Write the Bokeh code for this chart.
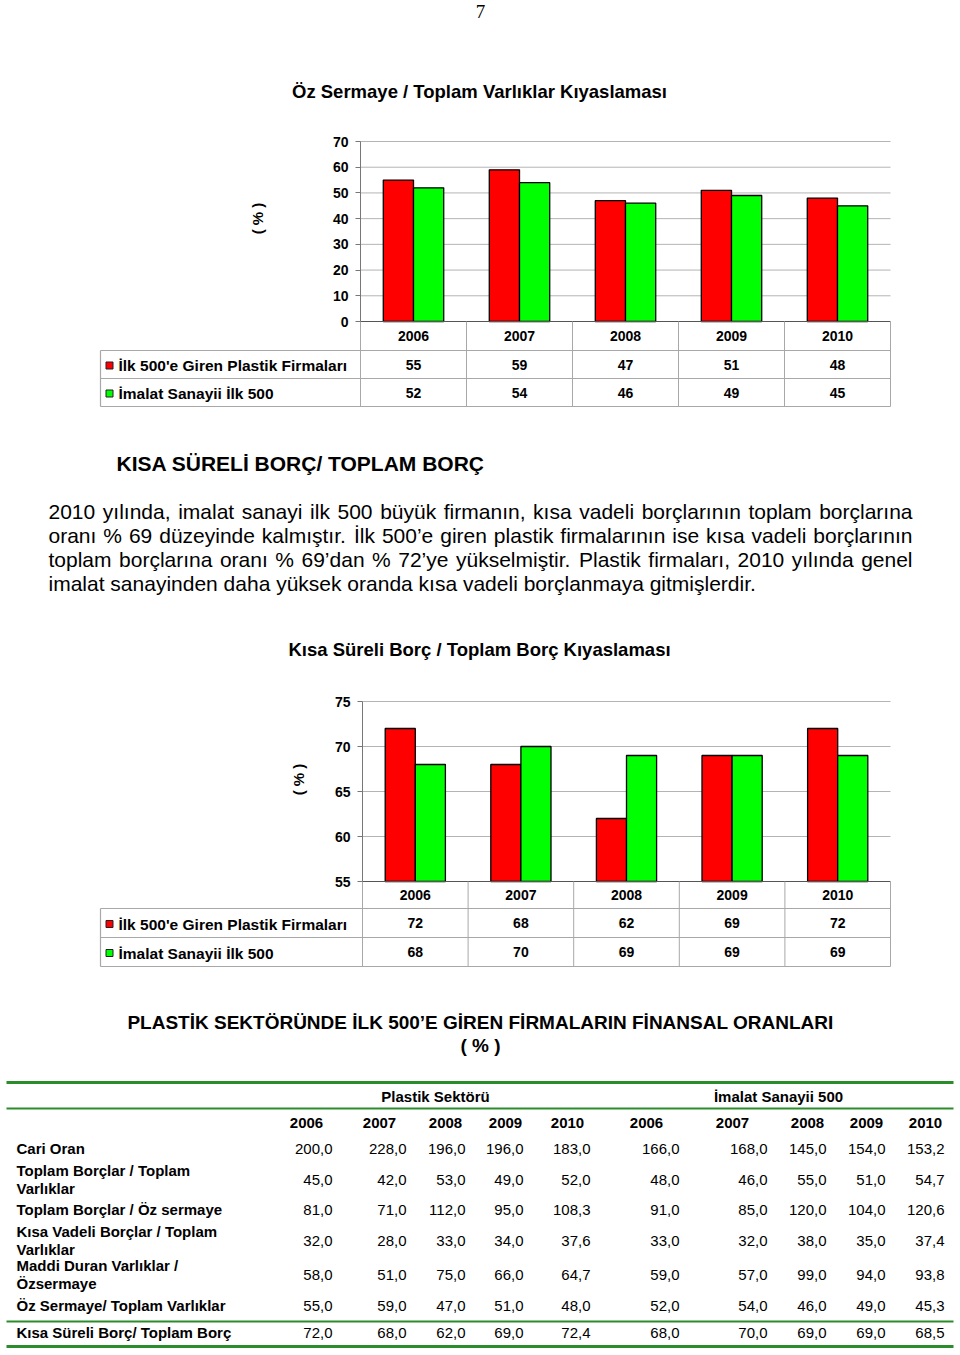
import numpy as np
from bokeh.plotting import figure
from bokeh.models import Range1d, LinearAxis, FixedTicker
from bokeh.core.properties import value
from bokeh.embed import file_html
from bokeh.resources import INLINE

# ---------------- data ----------------
YEARS = ["2006", "2007", "2008", "2009", "2010"]
SERIES = ["İlk 500'e Giren Plastik Firmaları", "İmalat Sanayii İlk 500"]

C1_TITLE = "Öz Sermaye / Toplam Varlıklar Kıyaslaması"
C1_PLASTIK = [55, 59, 47, 51, 48]
C1_IMALAT = [52, 54, 46, 49, 45]
C1_TICKS = [0, 10, 20, 30, 40, 50, 60, 70]

C2_TITLE = "Kısa Süreli Borç / Toplam Borç Kıyaslaması"
C2_PLASTIK = [72, 68, 62, 69, 72]
C2_IMALAT = [68, 70, 69, 69, 69]
C2_TICKS = [55, 60, 65, 70, 75]

PAGE_NO = "7"
HEADING = "KISA SÜRELİ BORÇ/ TOPLAM BORÇ"
PARAGRAPH = [
    "2010 yılında, imalat sanayi ilk 500 büyük firmanın, kısa vadeli borçlarının toplam borçlarına",
    "oranı % 69 düzeyinde kalmıştır. İlk 500’e giren plastik firmalarının ise kısa vadeli borçlarının",
    "toplam borçlarına oranı % 69’dan % 72’ye yükselmiştir. Plastik firmaları, 2010 yılında genel",
    "imalat sanayinden daha yüksek oranda kısa vadeli borçlanmaya gitmişlerdir.",
]

TABLE_TITLE = "PLASTİK SEKTÖRÜNDE İLK 500’E GİREN FİRMALARIN FİNANSAL ORANLARI"
TABLE_SUB = "( % )"
TABLE_GROUPS = ["Plastik Sektörü", "İmalat Sanayii 500"]
TABLE_ROWS = [
    "Cari Oran",
    "Toplam Borçlar / Toplam\nVarlıklar",
    "Toplam Borçlar / Öz sermaye",
    "Kısa Vadeli Borçlar / Toplam\nVarlıklar",
    "Maddi Duran Varlıklar /\nÖzsermaye",
    "Öz Sermaye/ Toplam Varlıklar",
    "Kısa Süreli Borç/ Toplam Borç",
]
TABLE_PLASTIK = [
    [200.0, 228.0, 196.0, 196.0, 183.0],
    [45.0, 42.0, 53.0, 49.0, 52.0],
    [81.0, 71.0, 112.0, 95.0, 108.3],
    [32.0, 28.0, 33.0, 34.0, 37.6],
    [58.0, 51.0, 75.0, 66.0, 64.7],
    [55.0, 59.0, 47.0, 51.0, 48.0],
    [72.0, 68.0, 62.0, 69.0, 72.4],
]
TABLE_IMALAT = [
    [166.0, 168.0, 145.0, 154.0, 153.2],
    [48.0, 46.0, 55.0, 51.0, 54.7],
    [91.0, 85.0, 120.0, 104.0, 120.6],
    [33.0, 32.0, 38.0, 35.0, 37.4],
    [59.0, 57.0, 99.0, 94.0, 93.8],
    [52.0, 54.0, 46.0, 49.0, 45.3],
    [68.0, 70.0, 69.0, 69.0, 68.5],
]

# ---------------- layout ----------------
FONT = value("Liberation Sans")
PX0, PX1, PY0, PY1 = 0, 960, 0, 1355
W, H = PX1 - PX0, PY1 - PY0

RED, GREEN = "#FF0000", "#00FF00"
GRID = "#b4b4b4"
TBL = "#a8a8a8"
DARKGREEN = "#2a8c2a"

# Arial / Liberation Sans advance widths (1/1000 em) for justification
_AW = {" ": 278, ",": 278, ".": 278, "%": 889, "’": 222, "'": 191, "/": 278,
       "a": 556, "b": 556, "c": 500, "d": 556, "e": 556, "f": 278, "g": 556,
       "h": 556, "i": 222, "j": 222, "k": 500, "l": 222, "m": 833, "n": 556,
       "o": 556, "p": 556, "q": 556, "r": 333, "s": 500, "t": 278, "u": 556,
       "v": 500, "w": 722, "x": 500, "y": 500, "z": 500, "ı": 278, "ç": 500,
       "ş": 500, "ü": 556, "ö": 556, "ğ": 556, "İ": 278, "P": 667, "I": 278}


def text_w(s, size):
    return sum(_AW.get(c, 556) for c in s) * size / 1000.0


p = figure(width=W, height=H, x_range=Range1d(PX0, PX1), y_range=Range1d(PY1, PY0),
           x_axis_type=None, y_axis_type=None, toolbar_location=None,
           output_backend="svg", min_border=0, outline_line_color=None,
           background_fill_color="white", border_fill_color="white")
p.xgrid.visible = False
p.ygrid.visible = False


def txt(x, y, s, size, bold=False, align="left", baseline="middle", color="black",
        font=FONT, angle=0, **kw):
    xs = x if isinstance(x, (list, np.ndarray)) else [x]
    ys = y if isinstance(y, (list, np.ndarray)) else [y]
    ss = s if isinstance(s, list) else [s]
    p.text(x=xs, y=ys, text=ss, text_font=font, text_font_size=value(size),
           text_font_style="bold" if bold else "normal", text_align=align,
           text_baseline=baseline, text_color=color, angle=angle, **kw)


def chart(name, x0, x1, ytop, ybot, vmin, vmax, ticks, s1, s2, title, title_y,
          ylab_x, ylab_y, rows, left_x):
    n = len(YEARS)
    cw = (x1 - x0) / n
    ppu = (ybot - ytop) / (vmax - vmin)
    xn, yn = name + "x", name + "y"
    p.extra_x_ranges[xn] = Range1d((PX0 - x0) / cw, (PX1 - x0) / cw)
    p.extra_y_ranges[yn] = Range1d(vmin - (PY1 - ybot) / ppu, vmin + (ybot - PY0) / ppu)

    # gridlines
    gt = [t for t in ticks if t != vmin]
    p.segment(x0=[0] * len(gt), x1=[n] * len(gt), y0=gt, y1=gt, line_color=GRID,
              line_width=1, x_range_name=xn, y_range_name=yn)

    # bars
    idx = np.arange(n) + 0.5
    bw = 0.285
    p.vbar(x=idx - bw / 2, top=s1, bottom=vmin, width=bw, fill_color=RED,
           line_color="black", line_width=1.3, x_range_name=xn, y_range_name=yn)
    p.vbar(x=idx + bw / 2, top=s2, bottom=vmin, width=bw, fill_color=GREEN,
           line_color="black", line_width=1.3, x_range_name=xn, y_range_name=yn)

    # base line
    p.segment(x0=[0], x1=[n], y0=[vmin], y1=[vmin], line_color="#555555",
              line_width=1.2, x_range_name=xn, y_range_name=yn)

    # y axis
    ax = LinearAxis(x_range_name=xn, y_range_name=yn, fixed_location=0,
                    bounds=(vmin, vmax), ticker=FixedTicker(ticks=ticks, minor_ticks=[]))
    ax.axis_line_color = "#777777"
    ax.major_tick_line_color = "#777777"
    ax.major_tick_out = 5
    ax.major_tick_in = 0
    ax.minor_tick_out = 0
    ax.minor_tick_in = 0
    ax.major_label_standoff = 7
    ax.major_label_text_font = "Liberation Sans"
    ax.major_label_text_font_style = "bold"
    ax.major_label_text_font_size = "14px"
    ax.major_label_text_color = "black"
    p.add_layout(ax, "left")

    # title and axis label
    txt((PX0 + PX1) / 2 - 1, title_y, title, "18.5px", bold=True, align="center")
    txt(ylab_x, ylab_y, "( % )", "15px", bold=True, align="center", angle=np.pi / 2)

    # data table under the chart
    r0, r1, r2, r3 = rows
    xr_right = x0 + n * cw
    p.segment(x0=list(range(n + 1)), x1=list(range(n + 1)), y0=[ybot] * (n + 1),
              y1=[r3] * (n + 1), line_color=TBL, line_width=1, x_range_name=xn)
    p.segment(x0=[left_x] * 3, x1=[xr_right] * 3, y0=[r1, r2, r3], y1=[r1, r2, r3],
              line_color=TBL, line_width=1.2)
    p.segment(x0=[left_x], x1=[left_x], y0=[r1], y1=[r3], line_color=TBL, line_width=1.2)
    txt(list(idx), [(r0 + r1) / 2] * n, YEARS, "14px", bold=True, align="center",
        x_range_name=xn)
    for k, (ser, vals, col) in enumerate(zip(SERIES, [s1, s2], [RED, GREEN])):
        ym = (rows[k + 1] + rows[k + 2]) / 2
        p.rect(x=[left_x + 9], y=[ym + 1], width=7, height=7, fill_color=col,
               line_color="#222222", line_width=1)
        txt(left_x + 18, ym + 1, ser, "15.5px", bold=True)
        txt(list(idx), [ym] * n, [str(v) for v in vals], "14px", bold=True,
            align="center", x_range_name=xn)


# page number
txt(480, 11, PAGE_NO, "19px", align="center", baseline="middle",
    font=value("Liberation Serif"))

chart("c1", 360, 890, 141, 321, 0, 70, C1_TICKS, C1_PLASTIK, C1_IMALAT, C1_TITLE, 91,
      257, 218, [321, 350, 378, 406], 100)
chart("c2", 362, 890, 701, 881, 55, 75, C2_TICKS, C2_PLASTIK, C2_IMALAT, C2_TITLE, 649,
      298, 779, [881, 908, 937, 966], 100)

# text block
txt(116, 463, HEADING, "21px", bold=True)
PAR_X0, PAR_X1, PAR_SIZE = 48, 912, 21
for i, line in enumerate(PARAGRAPH):
    y = 511 + 24 * i
    if i == len(PARAGRAPH) - 1:
        txt(PAR_X0, y, line, f"{PAR_SIZE}px")
        continue
    words = line.split(" ")
    ww = [text_w(w, PAR_SIZE) for w in words]
    gap = (PAR_X1 - PAR_X0 - sum(ww)) / (len(words) - 1)
    xs, cx = [], PAR_X0
    for w in ww:
        xs.append(cx)
        cx += w + gap
    txt(xs, [y] * len(words), words, f"{PAR_SIZE}px")

# financial table
txt(480, 1022, TABLE_TITLE, "19px", bold=True, align="center")
txt(480, 1045, TABLE_SUB, "19px", bold=True, align="center")

LINE_Y = [1082, 1108, 1321, 1346]
LINE_W = [3, 2, 2, 3]
p.segment(x0=[6] * 4, x1=[953] * 4, y0=LINE_Y, y1=LINE_Y, line_color=DARKGREEN,
          line_width=LINE_W)

GROUP_X = [435, 778]
txt(GROUP_X, [1096] * 2, TABLE_GROUPS, "15px", bold=True, align="center")

HEAD_X = [306, 379, 445, 505, 567, 646, 732, 807, 866, 925]
VAL_RIGHT = [332, 406, 465, 523, 590, 679, 767, 826, 885, 944]
ROW_Y = [1148, 1179, 1209, 1240, 1274, 1305, 1332]
txt(HEAD_X, [1122] * 10, YEARS + YEARS, "15px", bold=True, align="center")


def fmt(v):
    return f"{v:.1f}".replace(".", ",")


for label, yc, pv, iv in zip(TABLE_ROWS, ROW_Y, TABLE_PLASTIK, TABLE_IMALAT):
    parts = label.split("\n")
    if len(parts) == 1:
        txt(16, yc, parts[0], "15px", bold=True)
    else:
        txt([16, 16], [yc - 9, yc + 9], parts, "15px", bold=True)
    txt(VAL_RIGHT, [yc] * 10, [fmt(v) for v in pv + iv], "15px", align="right")

open("out.html", "w").write(file_html(p, INLINE))
